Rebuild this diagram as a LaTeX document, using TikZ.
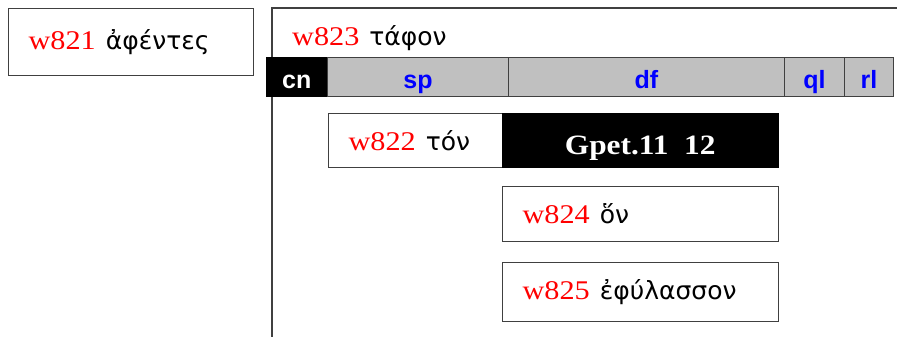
\documentclass[tikz,border=0pt]{standalone}
\usepackage{fontspec}
\setmainfont{Liberation Serif}[FakeStretch=1.12]
\newfontfamily\grk{DejaVu Sans}
\newfontfamily\hsans{Liberation Sans}
\definecolor{bord}{HTML}{404040}
\definecolor{barg}{HTML}{C0C0C0}
\newcommand{\wlab}[2]{\textcolor{red}{#1}\hspace{10pt}{\grk\fontsize{25}{25}\selectfont #2}}
\begin{document}
\begin{tikzpicture}[x=1pt,y=-1pt,
  wbox/.style={draw=bord,line width=1.3pt,fill=white,inner ysep=0pt,inner xsep=20pt,anchor=north west,align=left,font=\fontsize{27}{27}\selectfont},
  barcell/.style={draw=bord,line width=1pt,fill=barg,anchor=north west,inner sep=0pt,text height=31pt,text depth=8pt,font=\hsans\bfseries\fontsize{25}{25}\selectfont,text=blue},
  blk/.style={draw=black,fill=black,anchor=north west,inner sep=0pt,text=white}]
\useasboundingbox (0,0) rectangle (897,337);
% big container
\coordinate (ctl) at (272,8);
\coordinate (ctr) at (897,8);
\coordinate (cbl) at (272,337);
\draw[bord,line width=1.3pt] (cbl) -- (ctl) -- (ctr);
\node[anchor=west,inner sep=0pt,font=\fontsize{27}{27}\selectfont] (t823) at (292,38) {\wlab{w823}{τάφον}};
% w821
\node[wbox,minimum width=245pt,minimum height=67pt,text width=205pt] (b821) at (8,8) {\wlab{w821}{ἀφέντες}};
% bar
\node[blk,minimum width=61pt,text height=31pt,text depth=8pt,font=\hsans\bfseries\fontsize{25}{25}\selectfont] (cn) at (266,57) {cn};
\node[barcell,minimum width=181pt] (sp) at (327,57) {sp};
\node[barcell,minimum width=276pt] (df) at (508,57) {df};
\node[barcell,minimum width=60pt] (ql) at (784,57) {ql};
\node[barcell,minimum width=49pt] (rl) at (844,57) {rl};
% w822 + Gpet
\node[wbox,minimum width=174pt,minimum height=54pt,text width=134pt] (b822) at (328,113) {\wlab{w822}{τόν}};
\node[blk,minimum width=276pt,text height=41pt,text depth=13pt,font=\bfseries\fontsize{28}{28}\selectfont] (gpet) at (502,113) {Gpet.11\ \ 12};
% w824
\node[wbox,minimum width=276pt,minimum height=55pt,text width=236pt] (b824) at (502,186) {\wlab{w824}{ὅν}};
% w825
\node[wbox,minimum width=276pt,minimum height=59pt,text width=236pt] (b825) at (502,262) {\wlab{w825}{ἐφύλασσον}};
\end{tikzpicture}
\end{document}
